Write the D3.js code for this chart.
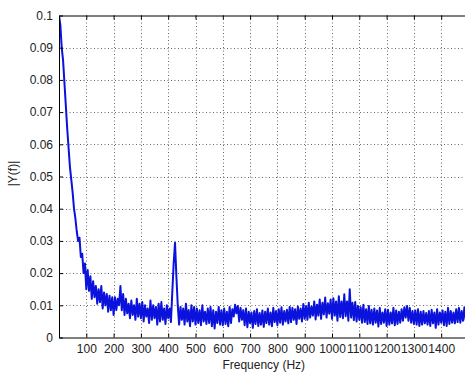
<!DOCTYPE html>
<html>
<head>
<meta charset="utf-8">
<script src="https://cdn.jsdelivr.net/npm/d3@7"></script>
<style>
html,body{margin:0;padding:0;background:#fff;}
svg{display:block;font-family:"Liberation Sans",Arial,sans-serif;}
</style>
</head>
<body>
<script>
// Spectrum |Y(f)| sampled every 5 Hz starting at 0 Hz
const sampleStep = 5;
const amplitude = [
0.100,0.097,0.090,0.086,0.079,0.072,0.065,0.059,0.053,0.049,
0.045,0.040,0.037,0.033,0.030,0.031,0.025,0.026,0.020,0.023,
0.015,0.021,0.0145,0.019,0.012,0.0175,0.0125,0.016,0.0105,0.0150,
0.0110,0.0160,0.0090,0.0140,0.0100,0.0135,0.0080,0.0130,0.0085,0.0125,
0.0070,0.0125,0.0085,0.0120,0.0100,0.0160,0.0085,0.0135,0.0070,0.0120,
0.0075,0.0105,0.0060,0.0115,0.0070,0.0100,0.0055,0.0120,0.0065,0.0105,
0.0060,0.0110,0.0050,0.0100,0.0065,0.0090,0.0045,0.0115,0.0055,0.0100,
0.0060,0.0095,0.0040,0.0105,0.0050,0.0110,0.0055,0.0090,0.0042,0.0100,
0.0060,0.0090,0.0048,0.0140,0.0230,0.0294,0.0190,0.0100,0.0040,0.0095,
0.0055,0.0090,0.0040,0.0105,0.0050,0.0085,0.0035,0.0100,0.0050,0.0095,
0.0040,0.0090,0.0045,0.0085,0.0038,0.0100,0.0050,0.0080,0.0042,0.0090,
0.0045,0.0095,0.0035,0.0085,0.0028,0.0080,0.0045,0.0095,0.0040,0.0085,
0.0038,0.0090,0.0042,0.0080,0.0035,0.0095,0.0045,0.0088,0.0065,0.0102,
0.0075,0.0098,0.0050,0.0092,0.0055,0.0085,0.0038,0.0090,0.0032,0.0080,
0.0045,0.0078,0.0030,0.0082,0.0042,0.0088,0.0036,0.0076,0.0040,0.0084,
0.0033,0.0080,0.0045,0.0090,0.0040,0.0078,0.0035,0.0092,0.0048,0.0082,
0.0038,0.0088,0.0046,0.0094,0.0040,0.0082,0.0050,0.0086,0.0044,0.0095,
0.0048,0.0092,0.0055,0.0088,0.0042,0.0096,0.0058,0.0090,0.0050,0.0104,
0.0058,0.0098,0.0055,0.0108,0.0062,0.0096,0.0068,0.0112,0.0056,0.0102,
0.0068,0.0118,0.0058,0.0108,0.0072,0.0124,0.0062,0.0106,0.0074,0.0118,
0.0058,0.0122,0.0068,0.0112,0.0052,0.0128,0.0064,0.0112,0.0060,0.0134,
0.0066,0.0112,0.0052,0.0150,0.0062,0.0108,0.0054,0.0110,0.0050,0.0098,
0.0055,0.0094,0.0046,0.0102,0.0048,0.0088,0.0042,0.0098,0.0044,0.0086,
0.0040,0.0090,0.0046,0.0084,0.0034,0.0092,0.0042,0.0078,0.0046,0.0088,
0.0036,0.0086,0.0040,0.0078,0.0044,0.0092,0.0038,0.0084,0.0042,0.0080,
0.0046,0.0088,0.0052,0.0094,0.0062,0.0098,0.0052,0.0092,0.0046,0.0082,
0.0042,0.0084,0.0040,0.0088,0.0036,0.0080,0.0040,0.0082,0.0044,0.0076,
0.0040,0.0082,0.0036,0.0086,0.0044,0.0078,0.0030,0.0088,0.0040,0.0078,
0.0046,0.0084,0.0038,0.0080,0.0036,0.0092,0.0042,0.0082,0.0046,0.0078,
0.0044,0.0088,0.0048,0.0092,0.0046,0.0082,0.0052,0.0094,0.0054,0.0086,
0.0080
];
const xTicks = [100,200,300,400,500,600,700,800,900,1000,1100,1200,1300,1400];
const yTicks = [0,0.01,0.02,0.03,0.04,0.05,0.06,0.07,0.08,0.09,0.1];
const xDomain = [0,1500];
const yDomain = [0,0.1];
const xLabel = "Frequency (Hz)";
const yLabel = "|Y(f)|";

(function(){
const W = 465, H = 374;
const pL = 59, pT = 15.5, pR = 468.5, pB = 337.5;

const svg = d3.select("body").append("svg").attr("width",W).attr("height",H);
const x = d3.scaleLinear().domain(xDomain).range([pL,pR]);
const y = d3.scaleLinear().domain(yDomain).range([pB,pT]);

svg.append("defs").append("clipPath").attr("id","clip")
  .append("rect").attr("x",pL).attr("y",pT).attr("width",pR-pL).attr("height",pB-pT);

// grid
const grid = svg.append("g").attr("stroke","#666").attr("stroke-width",1).attr("stroke-dasharray","1,2.5");
grid.selectAll(".gx").data(xTicks).join("line")
  .attr("x1",d=>Math.round(x(d))+0.5).attr("x2",d=>Math.round(x(d))+0.5)
  .attr("y1",pT).attr("y2",pB);
grid.selectAll(".gy").data(yTicks.filter(d=>d>0 && d<0.1)).join("line")
  .attr("y1",d=>Math.round(y(d))+0.5).attr("y2",d=>Math.round(y(d))+0.5)
  .attr("x1",pL).attr("x2",pR);

// data line
const data = amplitude.map((v,i)=>({f:i*sampleStep,v}));
svg.append("path").datum(data)
  .attr("clip-path","url(#clip)")
  .attr("fill","none").attr("stroke","#0a12dc").attr("stroke-width",2)
  .attr("stroke-linejoin","round")
  .attr("d",d3.line().x(d=>x(d.f)).y(d=>y(d.v)));

// axes (inward ticks)
const fmtY = d => d===0 ? "0" : String(+d.toFixed(2));
const axB = svg.append("g").attr("transform",`translate(0,${pB})`)
  .call(d3.axisBottom(x).tickValues(xTicks).tickSize(-4).tickPadding(7).tickFormat(d3.format("d")).tickSizeOuter(0));
const axT = svg.append("g").attr("transform",`translate(0,${pT})`)
  .call(d3.axisTop(x).tickValues(xTicks).tickSize(-4).tickFormat("").tickSizeOuter(0));
const axL = svg.append("g").attr("transform",`translate(${pL},0)`)
  .call(d3.axisLeft(y).tickValues(yTicks).tickSize(-4).tickPadding(6).tickFormat(fmtY).tickSizeOuter(0));
[axB,axT,axL].forEach(g=>{
  g.selectAll(".domain").attr("stroke","#000").attr("stroke-width",1);
  g.selectAll(".tick line").attr("stroke","#000");
  g.selectAll("text").attr("fill","#222").style("font-size","12px").style("font-family","'Liberation Sans',Arial,sans-serif");
});

svg.append("text").attr("x",(pL+pR)/2).attr("y",369)
  .attr("text-anchor","middle").attr("fill","#222").style("font-size","12px").text(xLabel);
svg.append("text").attr("transform",`translate(17,${(pT+pB)/2-3}) rotate(-90)`)
  .attr("text-anchor","middle").attr("fill","#222").style("font-size","12px").text(yLabel);
})();
</script>
</body>
</html>
